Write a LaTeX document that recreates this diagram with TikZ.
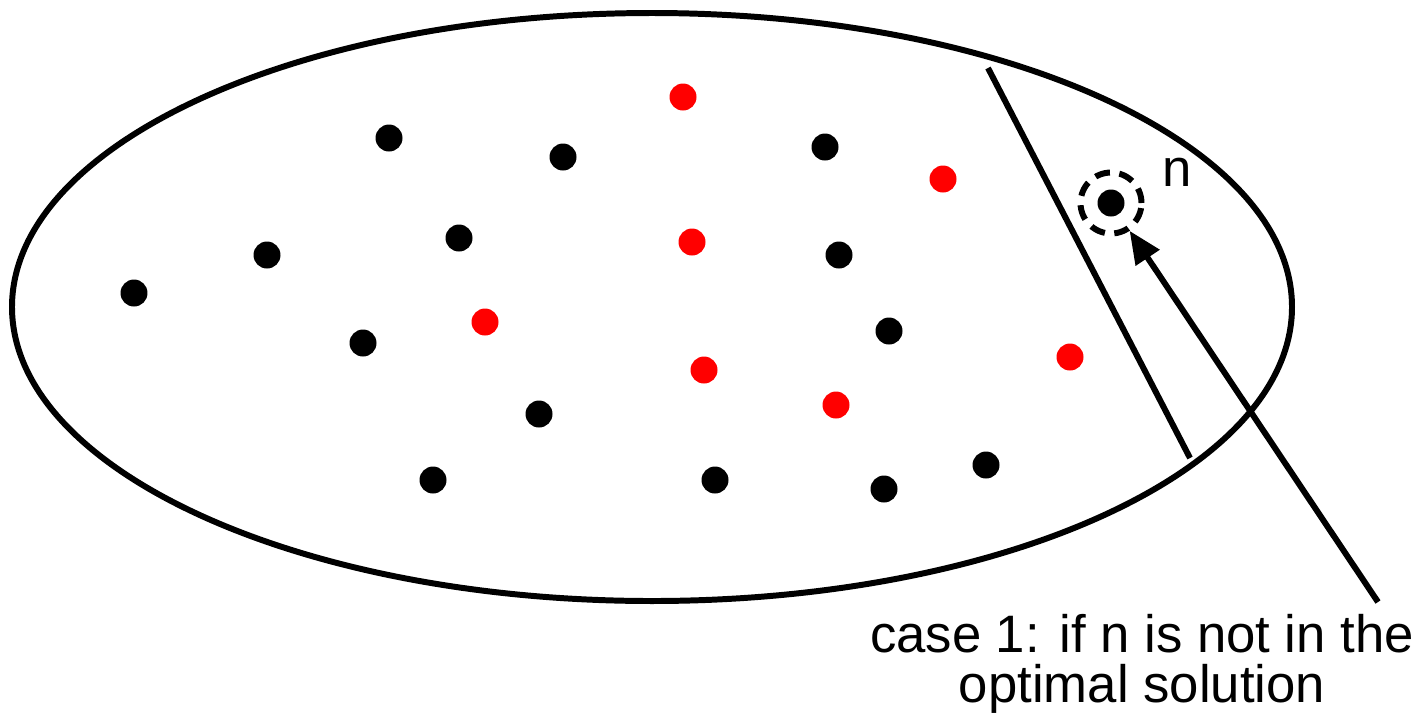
\documentclass[tikz,border=0pt]{standalone}
\usepackage{fontspec}
\setmainfont{Liberation Sans}
\usepackage{tikz}
\usetikzlibrary{arrows.meta,positioning}
\definecolor{pickred}{RGB}{255,0,0}
\tikzset{
  thick line/.style={black,line width=3.4pt},
  item/.style={circle,fill=black,inner sep=0pt,minimum size=5.4mm},
  chosen/.style={item,fill=pickred},
  ring/.style={circle,draw=black,line width=3.4pt,dash pattern=on 3mm off 1.9mm,
               minimum size=12.2mm,inner sep=0pt},
  pointer/.style={-{Triangle[length=6.5mm,width=5.5mm]},line width=3.4pt},
  lab/.style={font=\fontsize{30}{28.5}\selectfont,inner sep=0pt},
}
\begin{document}
\begin{tikzpicture}[x=0.02cm,y=-0.02cm]
  \path[use as bounding box] (0,0) rectangle (1420,725);
  \draw[thick line] (652,307) ellipse [x radius=640,y radius=294];

  % black items
  \foreach \x/\y [count=\i] in {389/138,563/157,825/147,267/255,459/238,839/255,134/293,
      363/343,889/331,539/414,433/480,715/480,884/489,986/465}{
    \node[item] (b\i) at (\x,\y) {};
  }
  % red items
  \foreach \x/\y [count=\i] in {683/97,943/179,692/242,485/322,704/370,1070/357,836/405}{
    \node[chosen] (r\i) at (\x,\y) {};
  }

  \node[item] (n) at (1111,203) {};
  \node[ring] (nring) at (1111,203) {};
  \node[lab,anchor=west] (nlab) at (1162,172) {n};

  \coordinate (cuttop) at (988,68);
  \coordinate (cutbot) at (1190,458);
  \draw[thick line] (cuttop) -- (cutbot);

  \node[lab,align=center] (case) at (1142,664) {case 1: if n is not in the\\optimal solution};
  \coordinate (tail) at (1378,602);
  \draw[pointer] (tail) -- (nring);
\end{tikzpicture}
\end{document}
